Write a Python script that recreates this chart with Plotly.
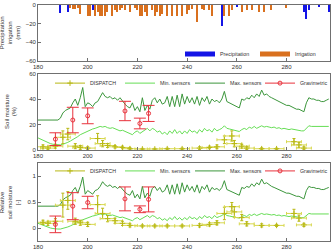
import plotly.graph_objects as go

# ---------------- data ----------------
days = list(range(180, 298))

max_sensors = [23.5, 23.5, 23.5, 23.5, 23.5, 23.5, 23.5, 23.5, 23.5,
               25, 29, 31, 32, 33, 37, 40, 35, 41, 49, 34, 37, 36, 34, 37, 38, 41, 45, 42, 41, 42,
               40, 41, 39, 41, 38, 36, 34, 33, 37, 31, 34, 30, 41, 31, 35, 32, 39, 41, 37, 40, 36,
               37, 42, 34, 42, 34, 43, 34, 44, 36, 42, 37, 41, 36, 42, 35, 41, 38, 42, 36, 40,
               38, 39, 37, 40, 46, 38, 37, 36, 35, 34, 33, 40, 39, 41, 40, 43, 41, 44, 42, 47,
               43, 44, 42, 41, 40, 39, 38, 37, 36, 35, 35, 34, 33, 32, 32, 31, 30, 37, 41, 40,
               40, 39, 39, 38, 38, 39, 40]
min_sensors = [9.5, 8.5, 7.5, 6.5, 5.5, 5, 4.5, 4.2, 4, 4, 4.5, 5, 6, 7, 8, 9, 10.5, 12, 13, 14,
               15, 16, 16.5, 17, 18, 18.5, 18, 18.5, 17.5, 17, 17.5, 16.5, 16, 15, 15.5, 14.5, 13.5,
               13, 12, 14, 15, 13, 14.5, 16, 17, 15, 17, 16, 14, 15, 12.5,
               14, 12, 15, 13, 16, 13, 15, 12.5, 15, 13, 16, 14, 15, 13, 16, 14, 17, 15, 16, 14,
               17, 15, 16, 17, 19, 17, 16.5, 16, 15.5, 15, 14.5, 16, 17, 16, 18, 17, 18.5, 17, 18,
               19, 18, 18.5, 18, 17.5, 18, 17, 17.5, 16.5, 17, 16.5, 16, 16.5, 16, 15.5, 15.5, 15,
               15, 17, 19, 18.5, 18.5, 18.5, 18, 18.5, 18, 18.5, 18.5]
max_rel = [0.42, 0.42, 0.42, 0.42, 0.42, 0.42, 0.42, 0.42, 0.42,
           0.45, 0.54, 0.58, 0.61, 0.63, 0.72, 0.78, 0.67, 0.80, 0.98, 0.65, 0.72, 0.69, 0.65, 0.72,
           0.74, 0.80, 0.89, 0.83, 0.80, 0.83, 0.78, 0.80, 0.76, 0.80, 0.74, 0.69, 0.65, 0.63, 0.72,
           0.58, 0.65, 0.56, 0.80, 0.58, 0.67, 0.61, 0.76, 0.80, 0.72, 0.78, 0.69,
           0.72, 0.83, 0.65, 0.83, 0.65, 0.85, 0.65, 0.87, 0.69, 0.83, 0.72, 0.80, 0.69, 0.83, 0.67,
           0.80, 0.74, 0.83, 0.69, 0.78, 0.74, 0.76, 0.72, 0.78, 0.91, 0.74, 0.72, 0.69, 0.67, 0.65,
           0.63, 0.78, 0.76, 0.80, 0.78, 0.85, 0.80, 0.87, 0.83, 0.94, 0.85, 0.87, 0.83, 0.80, 0.78,
           0.76, 0.74, 0.72, 0.69, 0.67, 0.67, 0.65, 0.63, 0.61, 0.61, 0.58, 0.56, 0.72, 0.80, 0.78,
           0.78, 0.76, 0.76, 0.74, 0.74, 0.76, 0.78]
min_rel = [0.09, 0.07, 0.05, 0.03, 0.01, 0.0, -0.01, -0.02, -0.02, -0.02, -0.01, 0.0, 0.02, 0.04,
           0.06, 0.08, 0.11, 0.14, 0.16, 0.18, 0.2, 0.22, 0.23, 0.24, 0.26, 0.27, 0.26, 0.27, 0.25,
           0.24, 0.25, 0.23, 0.22, 0.2, 0.21, 0.19, 0.17, 0.16, 0.14, 0.18, 0.2, 0.16, 0.19, 0.22,
           0.24, 0.2, 0.24, 0.22, 0.18, 0.2, 0.15,
           0.18, 0.14, 0.2, 0.16, 0.22, 0.16, 0.2, 0.15, 0.2, 0.16, 0.22, 0.18, 0.2, 0.16, 0.22,
           0.18, 0.24, 0.2, 0.22, 0.18, 0.24, 0.2, 0.22, 0.24, 0.28, 0.24, 0.23, 0.22, 0.21, 0.2,
           0.19, 0.22, 0.24, 0.22, 0.26, 0.24, 0.27, 0.24, 0.26, 0.28, 0.26, 0.27, 0.26, 0.25, 0.26,
           0.24, 0.25, 0.23, 0.24, 0.23, 0.22, 0.23, 0.22, 0.21, 0.21, 0.2, 0.2, 0.24, 0.28, 0.27,
           0.27, 0.27, 0.26, 0.27, 0.26, 0.27, 0.27]

precip_days = [189, 192, 202, 254, 260, 287, 288, 289, 293, 297]
precip_mm = [-9, -8, -5, -22, -2, -7, -15, -5, -2, -8]

irrig_days = [193, 194, 195, 196, 197, 200, 201, 203, 204, 205, 206, 207, 208, 210, 211, 212,
              213, 214, 215, 217, 219, 220, 221, 222, 223, 224, 226, 227, 228, 229, 230, 232,
              234, 236, 238, 240, 241, 242, 244, 246, 247, 249, 250, 255, 257, 258, 262, 264,
              266, 269, 271, 274, 280]
irrig_mm = [-3, -4, -4, -3, -10, -12, -12, -12, -8, -12, -12, -12, -8, -12, -5, -8,
            -5, -3, -5, -8, -3, -5, -12, -12, -8, -12, -5, -12, -8, -12, -10, -12,
            -12, -12, -12, -10, -5, -4, -18, -4, -5, -5, -12, -12, -12, -5, -8, -5,
            -5, -7, -7, -5, -3]

dispatch_days = [182, 184, 187, 190, 192, 195, 197, 200, 204, 206, 208, 211, 214, 217, 222, 227,
                 232, 238, 245, 249, 252, 255, 258, 259, 262, 264, 270, 276, 283, 285, 287]
dispatch_xerr = [3] * 31
dispatch_sm = [2.5, 1.5, 3.0, 10, 12.5, 3.0, 2.0, 1.5, 9.0, 5.0, 3.5, 2.5, 2.0, 1.0, 0.8, 0.8,
               1.0, 1.0, 1.5, 2.0, 2.5, 8.0, 11.0, 5.0, 3.0, 1.5, 1.0, 1.0, 6.5, 4.0, 1.5]
dispatch_sm_err = [1.5, 1.0, 1.5, 5, 4.5, 2.0, 1.5, 1.0, 4.0, 2.5, 1.5, 1.0, 1.0, 0.8, 0.5, 0.5,
                   0.5, 0.6, 1.0, 1.0, 1.5, 3.0, 4.0, 2.5, 1.5, 1.0, 0.7, 0.5, 2.5, 2.0, 1.0]
dispatch_rel = [0.11, 0.09, 0.13, 0.44, 0.53, 0.13, 0.10, 0.07, 0.45, 0.28, 0.18, 0.14, 0.09, 0.05,
                0.04, 0.04, 0.04, 0.04, 0.05, 0.07, 0.10, 0.28, 0.41, 0.31, 0.20, 0.08, 0.05, 0.05,
                0.28, 0.19, 0.06]
dispatch_rel_err = [0.04, 0.04, 0.05, 0.23, 0.17, 0.06, 0.05, 0.04, 0.17, 0.10, 0.06, 0.05, 0.04,
                    0.03, 0.02, 0.02, 0.02, 0.02, 0.03, 0.03, 0.04, 0.12, 0.08, 0.10, 0.06, 0.04,
                    0.03, 0.02, 0.08, 0.06, 0.03]

grav_days = [187, 194, 200, 215, 221, 224.5]
grav_sm = [8.5, 23.5, 26.8, 30.6, 20.8, 28.7]
grav_sm_err = [5, 10, 6.2, 7.6, 4.2, 6.3]
grav_rel = [0.07, 0.42, 0.49, 0.56, 0.36, 0.55]
grav_rel_err = [0.16, 0.26, 0.12, 0.23, 0.065, 0.24]

# ---------------- style ----------------
C_PRE = "#1414e6"
C_IRR = "#d9701e"
C_DIS = "#b8b814"
C_DIS_ERR = "#d8d850"
C_MIN = "#66dd55"
C_MAX = "#3c963c"
C_GRA = "#e8323c"
FONT = "Liberation Sans"

fig = go.Figure()

# Panel 1
fig.add_trace(go.Bar(x=precip_days, y=precip_mm, name="Precipitation", marker_color=C_PRE,
                     marker_line_width=0, width=0.5, xaxis="x", yaxis="y", showlegend=False))
fig.add_trace(go.Bar(x=irrig_days, y=irrig_mm, name="Irrigation", marker_color=C_IRR,
                     marker_line_width=0, width=0.5, xaxis="x", yaxis="y", showlegend=False))
fig.add_trace(go.Scatter(x=[None], y=[None], mode="lines", name="Precipitation",
                         line=dict(color=C_PRE, width=5), xaxis="x", yaxis="y", legend="legend"))
fig.add_trace(go.Scatter(x=[None], y=[None], mode="lines", name="Irrigation",
                         line=dict(color=C_IRR, width=5), xaxis="x", yaxis="y", legend="legend"))


def add_panel(xa, ya, leg, sm_min, sm_max, dis, dis_err, grav, grav_err):
    fig.add_trace(go.Scatter(x=days, y=sm_min, mode="lines", line=dict(color=C_MIN, width=1),
                             name="Min. sensors", xaxis=xa, yaxis=ya, showlegend=False))
    fig.add_trace(go.Scatter(x=days, y=sm_max, mode="lines", line=dict(color=C_MAX, width=1),
                             name="Max. sensors", xaxis=xa, yaxis=ya, showlegend=False))
    fig.add_trace(go.Scatter(x=dispatch_days, y=dis, mode="markers", name="DISPATCH",
                             marker=dict(symbol="cross-thin", size=4, color=C_DIS,
                                         line=dict(color=C_DIS, width=1)),
                             error_x=dict(type="data", array=dispatch_xerr, color=C_DIS_ERR,
                                          thickness=1, width=1.5),
                             error_y=dict(type="data", array=dis_err, color=C_DIS,
                                          thickness=1, width=1.5),
                             xaxis=xa, yaxis=ya, showlegend=False))
    fig.add_trace(go.Scatter(x=grav_days, y=grav, mode="markers", name="Gravimetric",
                             marker=dict(symbol="circle-open", size=4, color=C_GRA,
                                         line=dict(color=C_GRA, width=1)),
                             error_y=dict(type="data", array=grav_err, color=C_GRA,
                                          thickness=1, width=6),
                             xaxis=xa, yaxis=ya, showlegend=False))
    # legend entries
    fig.add_trace(go.Scatter(x=[None], y=[None], mode="lines+markers", name="DISPATCH",
                             line=dict(color=C_DIS, width=1),
                             marker=dict(symbol="cross-thin", size=4, color=C_DIS,
                                         line=dict(color=C_DIS, width=1)),
                             xaxis=xa, yaxis=ya, legend=leg))
    fig.add_trace(go.Scatter(x=[None], y=[None], mode="lines", name="Min. sensors",
                             line=dict(color=C_MIN, width=1), xaxis=xa, yaxis=ya, legend=leg))
    fig.add_trace(go.Scatter(x=[None], y=[None], mode="lines", name="Max. sensors",
                             line=dict(color=C_MAX, width=1), xaxis=xa, yaxis=ya, legend=leg))
    fig.add_trace(go.Scatter(x=[None], y=[None], mode="lines+markers", name="Gravimetric",
                             line=dict(color=C_GRA, width=1),
                             marker=dict(symbol="circle-open", size=4, color=C_GRA,
                                         line=dict(color=C_GRA, width=1)),
                             xaxis=xa, yaxis=ya, legend=leg))


add_panel("x2", "y2", "legend2", min_sensors, max_sensors, dispatch_sm, dispatch_sm_err,
          grav_sm, grav_sm_err)
add_panel("x3", "y3", "legend3", min_rel, max_rel, dispatch_rel, dispatch_rel_err,
          grav_rel, grav_rel_err)

ax_common = dict(showline=True, mirror=True, linecolor="#707070", linewidth=0.8,
                 ticks="inside", ticklen=3, tickcolor="#707070", showgrid=False, zeroline=False,
                 tickfont=dict(size=6, color="#333333", family=FONT))
xticks = dict(range=[180, 297.5], tickvals=[180, 200, 220, 240, 260, 280])

leg_common = dict(orientation="h", bgcolor="rgba(255,255,255,0)", borderwidth=0,
                  font=dict(size=5.3, color="#333333", family=FONT),
                  xanchor="right", yanchor="middle", itemwidth=30, tracegroupgap=0,
                  entrywidthmode="pixels")

fig.update_layout(
    width=331, height=251, margin=dict(l=38, r=1, t=5, b=10),
    paper_bgcolor="white", plot_bgcolor="white",
    barmode="overlay", bargap=0,
    font=dict(family=FONT, size=6, color="#333333"),
    xaxis=dict(**ax_common, **xticks, anchor="y", domain=[0, 1]),
    yaxis=dict(**ax_common, range=[-60, 0], tickvals=[-60, -40, -20, 0], domain=[0.7627, 1.0],
               anchor="x"),
    xaxis2=dict(**ax_common, **xticks, anchor="y2", domain=[0, 1]),
    yaxis2=dict(**ax_common, range=[0, 60], tickvals=[0, 20, 40, 60], domain=[0.3856, 0.7097],
                anchor="x2"),
    xaxis3=dict(**ax_common, **xticks, anchor="y3", domain=[0, 1]),
    yaxis3=dict(**ax_common, range=[-0.25, 1.25], tickvals=[0, 0.5, 1], ticktext=["0", "0.5", "1"],
                domain=[0, 0.3305], anchor="x3"),
    legend=dict(**leg_common, x=1.0, y=0.792, entrywidth=30),
    legend2=dict(**leg_common, x=1.0, y=0.669, entrywidth=25),
    legend3=dict(**leg_common, x=1.0, y=0.297, entrywidth=25),
    showlegend=True,
)

titles = [("Precipitation<br>irrigation<br>(mm)", 0.881),
          ("Soil moisture<br>(%)", 0.548),
          ("Relative<br>soil moisture<br>[-]", 0.165)]
for txt, yy in titles:
    fig.add_annotation(text=txt, xref="paper", yref="paper", x=-0.095, y=yy, textangle=-90,
                       showarrow=False, xanchor="center", yanchor="middle",
                       font=dict(size=6, color="#333333", family=FONT))

fig.write_html("out.html")
